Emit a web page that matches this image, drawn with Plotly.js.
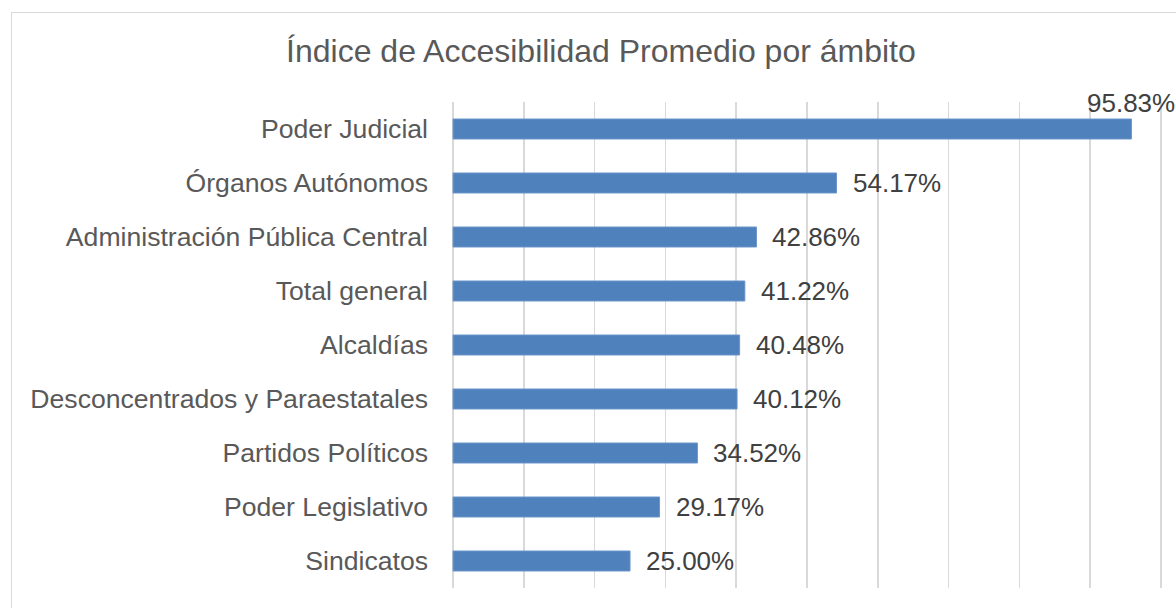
<!DOCTYPE html>
<html>
<head>
<meta charset="utf-8">
<script src="https://cdn.plot.ly/plotly-3.0.1.min.js"></script>
<style>
html,body{margin:0;padding:0;background:#fff;overflow:hidden;}
#chart{width:1176px;height:608px;position:relative;}
#frame{position:absolute;left:11px;top:12px;width:2000px;height:2000px;border:1.5px solid #d9d9d9;pointer-events:none;}
</style>
</head>
<body>
<div id="chart"></div>
<div id="frame"></div>
<script>
var categories = [
  "Poder Judicial",
  "Órganos Autónomos",
  "Administración Pública Central",
  "Total general",
  "Alcaldías",
  "Desconcentrados y Paraestatales",
  "Partidos Políticos",
  "Poder Legislativo",
  "Sindicatos"
];
var values = [0.9583, 0.5417, 0.4286, 0.4122, 0.4048, 0.4012, 0.3452, 0.2917, 0.2500];
var valueLabels = ["95.83%", "54.17%", "42.86%", "41.22%", "40.48%", "40.12%", "34.52%", "29.17%", "25.00%"];

var FONT = "Liberation Sans, Arial, sans-serif";

var annotations = values.map(function(v, i){
  var tooWide = v > 0.85;
  return {
    x: v, y: categories[i], xref: "x", yref: "y",
    text: valueLabels[i], showarrow: false,
    xanchor: "left", yanchor: "middle",
    xshift: tooWide ? -46 : 14,
    yshift: tooWide ? 26 : 0,
    font: {family: FONT, size: 26, color: "#404040"}
  };
});

var trace = {
  type: "bar",
  orientation: "h",
  x: values,
  y: categories,
  marker: {color: "#4f81bd", line: {color: "#6b95c9", width: 1}},
  hoverinfo: "none"
};

var layout = {
  width: 1176, height: 608,
  margin: {l: 452, r: 14, t: 102, b: 20},
  paper_bgcolor: "#ffffff", plot_bgcolor: "#ffffff",
  showlegend: false,
  bargap: 0.63,
  title: {
    text: "Índice de Accesibilidad Promedio por ámbito",
    font: {family: FONT, size: 32, color: "#595959"},
    xref: "container", x: 0.511, xanchor: "center",
    yref: "container", y: 0.916, yanchor: "middle"
  },
  xaxis: {
    range: [-0.0015, 1.0015], dtick: 0.1, tick0: 0,
    showticklabels: false, showgrid: true,
    gridcolor: "#d9d9d9", gridwidth: 1.5,
    zeroline: false, showline: false, fixedrange: true
  },
  yaxis: {
    type: "category", autorange: "reversed",
    showgrid: false, zeroline: false, showline: false,
    ticks: "", ticklabelstandoff: 23,
    tickfont: {family: FONT, size: 26.6, color: "#595959"},
    fixedrange: true
  },
  annotations: annotations
};

Plotly.newPlot("chart", [trace], layout, {displayModeBar: false, staticPlot: true});
</script>
</body>
</html>
